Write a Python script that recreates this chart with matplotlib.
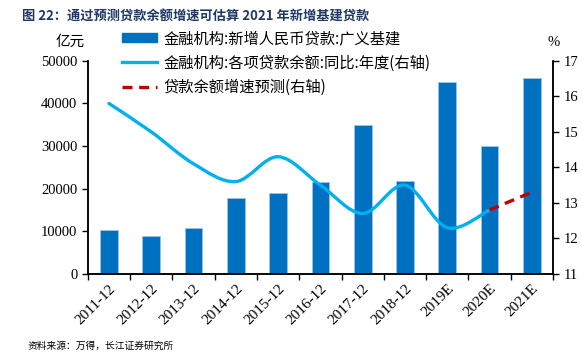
import matplotlib
matplotlib.use("Agg")
import matplotlib.pyplot as plt
from matplotlib.path import Path
from matplotlib.patches import PathPatch
from matplotlib.lines import Line2D
from matplotlib.patches import Patch
import numpy as np

plt.rcParams['font.family'] = ['Liberation Serif', 'Noto Sans CJK SC', 'DejaVu Sans']

categories = ['2011-12', '2012-12', '2013-12', '2014-12', '2015-12', '2016-12',
              '2017-12', '2018-12', '2019E', '2020E', '2021E']
new_loans = [10300, 8800, 10800, 17800, 19000, 21500, 35000, 21800, 45000, 30000, 46000]
loan_growth = [15.8, 15.0, 14.1, 13.6, 14.3, 13.5, 12.7, 13.5, 12.3, 12.8]
forecast_x = ['2020E', '2021E']
forecast = [12.8, 13.3]

label_bar = '金融机构:新增人民币贷款:广义基建'
label_line = '金融机构:各项贷款余额:同比:年度(右轴)'
label_fc = '贷款余额增速预测(右轴)'

bar_color = '#0070C0'
line_color = '#00B0F0'
red = '#C00000'
cjk = ['Noto Sans CJK SC', 'DejaVu Sans']

fig = plt.figure(figsize=(5.82, 3.52), dpi=100)
ax = fig.add_axes([0.151, 0.222, 0.799, 0.605])
ax2 = ax.twinx()

x = np.arange(len(categories))
ax.bar(x, new_loans, width=0.42, color=bar_color, edgecolor='#9DC3E6', linewidth=0.6, zorder=2)
ax.set_xlim(-0.5, len(categories) - 0.5)
ax.set_ylim(0, 50000)
ax.set_yticks(range(0, 50001, 10000))
ax.set_xticks(x)
ax.set_xticklabels(categories, rotation=45, ha='right', rotation_mode='anchor', fontsize=11)
ax.tick_params(axis='x', length=0, pad=6)
ax.set_xticks(np.arange(-0.5, len(categories), 1), minor=True)
ax.tick_params(axis='x', which='minor', length=4, direction='out', width=1)
ax.tick_params(axis='y', labelsize=10.5, length=4, width=1)

# smoothed line (Catmull-Rom bezier through yearly points)
px = x[:len(loan_growth)].astype(float)
py = np.array(loan_growth)
verts = [(px[0], py[0])]
codes = [Path.MOVETO]
n = len(px)
for i in range(n - 1):
    p0 = (px[max(i - 1, 0)], py[max(i - 1, 0)])
    p1 = (px[i], py[i])
    p2 = (px[i + 1], py[i + 1])
    p3 = (px[min(i + 2, n - 1)], py[min(i + 2, n - 1)])
    c1 = (p1[0] + (p2[0] - p0[0]) / 6, p1[1] + (p2[1] - p0[1]) / 6)
    c2 = (p2[0] - (p3[0] - p1[0]) / 6, p2[1] - (p3[1] - p1[1]) / 6)
    verts += [c1, c2, p2]
    codes += [Path.CURVE4] * 3
ax2.add_patch(PathPatch(Path(verts, codes), facecolor='none', edgecolor=line_color,
                        lw=2.4, capstyle='round', zorder=3))
fx = [categories.index(c) for c in forecast_x]
ax2.plot(fx, forecast, color=red, lw=2.4, ls=(0, (3, 2)), zorder=4)
ax2.set_ylim(11, 17)
ax2.set_yticks(range(11, 18))
ax2.tick_params(axis='y', labelsize=10.5, length=4, width=1)

for a in (ax, ax2):
    a.spines['top'].set_visible(False)
    for s in ('left', 'right', 'bottom'):
        a.spines[s].set_linewidth(1.1)

handles = [Patch(facecolor=bar_color, edgecolor=bar_color),
           Line2D([], [], color=line_color, lw=2.4),
           Line2D([], [], color=red, lw=2.4, ls=(0, (3, 2)))]
leg = ax.legend(handles, [label_bar, label_line, label_fc], loc='upper left',
                bbox_to_anchor=(0.06, 1.175), frameon=False, prop={'family': cjk, 'size': 11},
                handlelength=2.3, handleheight=0.6, labelspacing=0.5, handletextpad=0.4,
                borderaxespad=0)

fig.text(0.038, 0.952, '图 22：通过预测贷款余额增速可估算 2021 年新增基建贷款',
         family=cjk, fontsize=9.5, fontweight='bold', color='#1F3864', va='center')
fig.text(0.095, 0.88, '亿元', family=cjk, fontsize=10.5, va='center')
fig.text(0.94, 0.88, '%', fontsize=10.5, va='center')
fig.text(0.048, 0.004, '资料来源：万得，长江证券研究所', family=cjk, fontsize=7, va='bottom')

fig.savefig('out.png', dpi=100)
